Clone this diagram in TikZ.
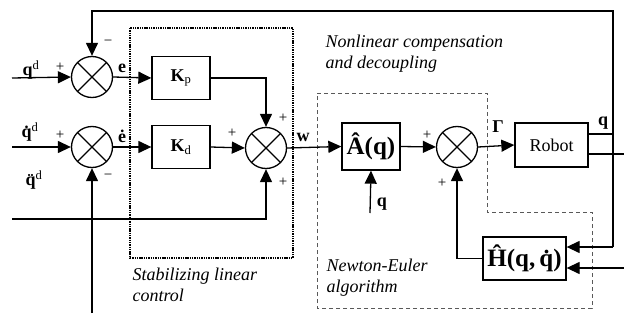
\documentclass[tikz,border=0pt]{standalone}
\usepackage{fontspec}
\setmainfont{Liberation Serif}
\usetikzlibrary{arrows.meta,calc}
\begin{document}
\begin{tikzpicture}[x=1pt,y=-1pt,line width=1.3pt,
  arr/.style={-{Triangle[length=13pt,width=12pt]}},
  sumnode/.style={circle,draw,minimum size=41pt,inner sep=0pt,
    path picture={\draw[line width=1.3pt] (path picture bounding box.north west) -- (path picture bounding box.south east)
      (path picture bounding box.north east) -- (path picture bounding box.south west);}},
  blk/.style={draw,rectangle,inner sep=0pt,font=\fontsize{18}{20}\selectfont},
  lab/.style={inner sep=0pt,font=\fontsize{18}{20}\selectfont\bfseries},
  sgn/.style={inner sep=0pt,font=\fontsize{15}{16}\selectfont},
  note/.style={inner sep=0pt,anchor=west,align=left,font=\fontsize{18}{21}\selectfont\itshape},
  dotbox/.style={line width=1.2pt,dash pattern=on 1.4pt off 0.9pt},
  dashbox/.style={line width=0.8pt,gray!70!black,dash pattern=on 4pt off 3pt}]
\useasboundingbox (0,0) rectangle (624,324);

% enclosures
\draw[dotbox] (130,28) rectangle (293,258);
\draw[dashbox] (317,93) -- (487,93) -- (487,212) -- (592,212) -- (592,308) -- (317,308) -- cycle;

% sums
\node[sumnode] (s1) at (92,77) {};
\node[sumnode] (s2) at (92,147) {};
\node[sumnode] (s3) at (266,148) {};
\node[sumnode] (s4) at (457,147) {};

% blocks
\node[blk,minimum width=58pt,minimum height=43pt] (kp) at (181,78) {\textbf{K}\textsubscript{p}};
\node[blk,minimum width=58pt,minimum height=43pt] (kd) at (181,147) {\textbf{K}\textsubscript{d}};
\node[blk,minimum width=58pt,minimum height=47pt,font=\fontsize{25}{26}\selectfont\bfseries] (A) at (371,146.5) {\^A(q)};
\node[blk,minimum width=73pt,minimum height=44pt] (rob) at (551.5,145) {Robot};
\node[blk,minimum width=83pt,minimum height=43pt,font=\fontsize{25}{26}\selectfont\bfseries] (H) at (524.5,258.5) {\^H(q,\,\.q)};

% free ends
\coordinate (qdin) at (12,78);
\coordinate (qddin) at (12,147);
\coordinate (qdddin) at (12,219);
\coordinate (fbin) at (92,313);
\coordinate (qin) at (370,213);
\coordinate (fbtop) at (613,11);
\coordinate (fbbot) at (613,247);
\coordinate (qdotout) at (624,154);
\coordinate (qdotin) at (624,268);

% connectors
\draw[arr] (qdin) -- (s1.west);
\draw[arr] (s1.east) -- (kp.west);
\draw[arr] (kp.east) -| (s3.north);
\draw[arr] (qddin) -- (s2.west);
\draw[arr] (s2.east) -- (kd.west);
\draw[arr] (kd.east) -- (s3.west);
\draw[arr] (qdddin) -| (s3.south);
\draw[arr] (fbin) -- (s2.south);
\draw[arr] (s3.east) -- (A.west);
\draw[arr] (A.east) -- (s4.west);
\draw[arr] (qin) -- (A.south);
\draw[arr] (s4.east) -- (rob.west);
\draw ([yshift=11pt]rob.east) -- ([yshift=11pt]rob.east -| fbtop);
\draw ([yshift=-9pt]rob.east) -- (qdotout);
\draw[arr] (fbbot) -- (fbtop) -| (s1.north);
\draw[arr] (fbbot) -- ([yshift=11.5pt]H.east);
\draw[arr] (qdotin) -- ([yshift=-9.5pt]H.east);
\draw[arr] (H.west) -| (s4.south);

% labels
\node[lab] (lqd) at (31,70) {q\textsuperscript{\mdseries d}};
\node[lab] (lqdd) at (30,132) {q̇\textsuperscript{\mdseries d}};
\node[lab] (lqddd) at (34,180) {q̈\textsuperscript{\mdseries d}};
\node[lab] (le) at (122,68) {e};
\node[lab] (led) at (122,136) {ė};
\node[lab] (lw) at (303,137) {w};
\node[lab] (lG) at (498,127) {Γ};
\node[lab] (lq) at (603,123) {q};
\node[lab] (lq2) at (382,204) {q};

\node[sgn] at (60,67) {+};
\node[sgn] at (108,43) {−};
\node[sgn] at (60,135) {+};
\node[sgn] at (108,177) {−};
\node[sgn] at (232,133) {+};
\node[sgn] at (283,118) {+};
\node[sgn] at (283,182) {+};
\node[sgn] at (427,135) {+};
\node[sgn] at (442,183) {+};

% notes
\node[note] (n1) at (325,54) {Nonlinear compensation\\and decoupling};
\node[note] (n2) at (132,285) {Stabilizing linear\\control};
\node[note] (n3) at (326,278) {Newton-Euler\\algorithm};
\end{tikzpicture}
\end{document}
